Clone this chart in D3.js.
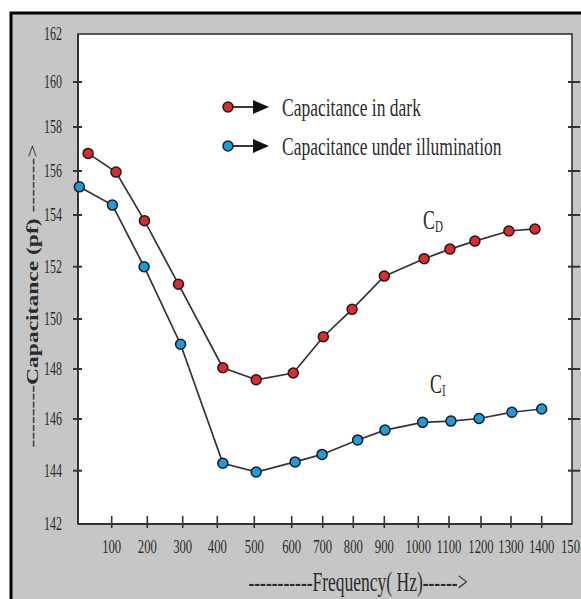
<!DOCTYPE html>
<html><head><meta charset="utf-8">
<script src="https://cdn.jsdelivr.net/npm/d3@7"></script>
<style>body{margin:0;background:#fff;overflow:hidden}</style>
</head><body>
<svg id="chart" width="581" height="599"></svg>
<script>
// ---- data ----
const yTicks = [142,144,146,148,150,152,154,156,158,160,162];
const xTicks = [100,200,300,400,500,600,700,800,900,1000,1100,1200,1300,1400,1500];
const xTickLabels = ["100","200","300","400","500","600","700","800","900","1000","1100","1200","1300","1400","150"];
const freqDark  = [30,112,192,288,415,505,605,702,796,900,1019,1103,1181,1293,1378];
const capDark   = [156.8,155.95,153.78,151.33,148.05,147.57,147.84,149.29,150.37,151.64,152.31,152.68,152.99,153.38,153.46];
const freqIllum = [4,102,191,294,415,505,611,698,814,902,1014,1106,1194,1303,1400];
const capIllum  = [155.28,154.45,152.0,148.99,144.29,143.95,144.34,144.63,145.19,145.57,145.87,145.92,146.02,146.27,146.40];
const seriesNames = ["Capacitance in dark","Capacitance under illumination"];
const seriesLabels = [["C","D"],["C","I"]];
const xTitle = "-----------Frequency( Hz)------>";
const yTitleWords = "Capacitance (pf)";

// ---- layout ----
const svg = d3.select("#chart");
const L = 78, R = 572, T = 34, B = 524;
const RED = "#e1282c", BLUE = "#1b9be0", INK = "#2b2b2b";

// the scanned figure is not uniformly spaced, so use polylinear scales on the tick positions
const y = d3.scaleLinear().domain(yTicks)
  .range([524,470.7,419,369,319,266.7,215,171,127,82,34]);
const x = d3.scaleLinear().domain([0].concat(xTicks))
  .range([78,111.7,147.3,182.7,217.3,254.3,291.7,322.7,353.3,384.3,418.3,449,481,511,541.7,572]);

// outer frame
svg.append("rect").attr("x",11).attr("y",13).attr("width",620).attr("height",620)
  .attr("fill","#c6c6c6").attr("stroke","#000").attr("stroke-width",3);
// plot area
svg.append("rect").attr("x",L).attr("y",T).attr("width",R-L).attr("height",B-T)
  .attr("fill","#fff").attr("stroke","#333").attr("stroke-width",1.6);
svg.append("line").attr("x1",L).attr("x2",L).attr("y1",T).attr("y2",B).attr("stroke","#333").attr("stroke-width",2);
svg.append("line").attr("x1",L).attr("x2",R).attr("y1",B).attr("y2",B).attr("stroke","#333").attr("stroke-width",2);

const FONT = "'Liberation Serif','Times New Roman',serif";
function txt(g, px, py, s, size, sx, sy, anchor, weight){
  return g.append("text").attr("transform",`translate(${px},${py}) scale(${sx},${sy})`)
    .attr("text-anchor",anchor||"start").attr("font-family",FONT).attr("font-size",size)
    .attr("font-weight",weight||"normal").attr("fill",INK).text(s);
}

// y ticks (left, crossing) and mirrored right ticks
const gy = svg.append("g");
yTicks.forEach(v=>{
  if(v!==142 && v!==162){
    gy.append("line").attr("x1",L-5).attr("x2",L+4).attr("y1",y(v)).attr("y2",y(v)).attr("stroke","#333").attr("stroke-width",2);
    gy.append("line").attr("x1",R-4).attr("x2",R+8).attr("y1",y(v)).attr("y2",y(v)).attr("stroke","#333").attr("stroke-width",2);
  }
  txt(gy, 62, y(v)+6, String(v), 12, 1, 1.5, "end");
});
// x ticks
const gx = svg.append("g");
xTicks.forEach((v,i)=>{
  if(v<1500){
    gx.append("line").attr("x1",x(v)).attr("x2",x(v)).attr("y1",B-8).attr("y2",B+4).attr("stroke","#333").attr("stroke-width",1.6);
    txt(gx, x(v), 553, xTickLabels[i], 12.7, 1, 1.5, "middle");
  } else {
    // last label is clipped by the figure edge in the reference
    txt(gx, 580, 553, xTickLabels[i], 12.7, 1, 1.5, "end");
  }
});

// axis titles
txt(svg, 358, 591, xTitle, 17.5, 1, 1.6, "middle");
const yt = svg.append("text").attr("transform","translate(38,296) rotate(-90) scale(1.47,1)")
  .attr("text-anchor","middle").attr("font-family",FONT).attr("font-size",16).attr("fill",INK);
yt.append("tspan").text("--------");
yt.append("tspan").attr("font-weight","bold").text(yTitleWords);
yt.append("tspan").text(" ------->");

// series
const series = [
  {f:freqDark, c:capDark, color:RED},
  {f:freqIllum, c:capIllum, color:BLUE}
];
const line = d3.line().x(d=>x(d[0])).y(d=>y(d[1]));
series.forEach(s=>{
  const pts = s.f.map((f,i)=>[f,s.c[i]]);
  svg.append("path").attr("d",line(pts)).attr("fill","none").attr("stroke","#333").attr("stroke-width",1.7);
  svg.append("g").selectAll("circle").data(pts).join("circle")
    .attr("cx",d=>x(d[0])).attr("cy",d=>y(d[1])).attr("r",5)
    .attr("fill",s.color).attr("stroke","#1a1a1a").attr("stroke-width",1.5);
});

// legend
const legY = [107,146];
seriesNames.forEach((n,i)=>{
  const g = svg.append("g");
  const cy = legY[i];
  g.append("line").attr("x1",228).attr("x2",256).attr("y1",cy).attr("y2",cy).attr("stroke","#222").attr("stroke-width",1.8);
  g.append("path").attr("d",`M253,${cy-7}L269,${cy}L253,${cy+7}Z`).attr("fill","#111");
  g.append("circle").attr("cx",228).attr("cy",cy).attr("r",5).attr("fill",series[i].color).attr("stroke","#1a1a1a").attr("stroke-width",1.5);
  txt(g, 282, cy+9, n, 17.5, 1, 1.5, "start");
});

// curve labels
const labPos = [[423,229],[430,393]];
seriesLabels.forEach((lab,i)=>{
  const t = svg.append("text").attr("transform",`translate(${labPos[i][0]},${labPos[i][1]}) scale(1,1.5)`)
    .attr("font-family",FONT).attr("font-size",18).attr("fill",INK);
  t.append("tspan").text(lab[0]);
  t.append("tspan").attr("font-size",11).attr("dy",2).text(lab[1]);
});
</script>
</body></html>
